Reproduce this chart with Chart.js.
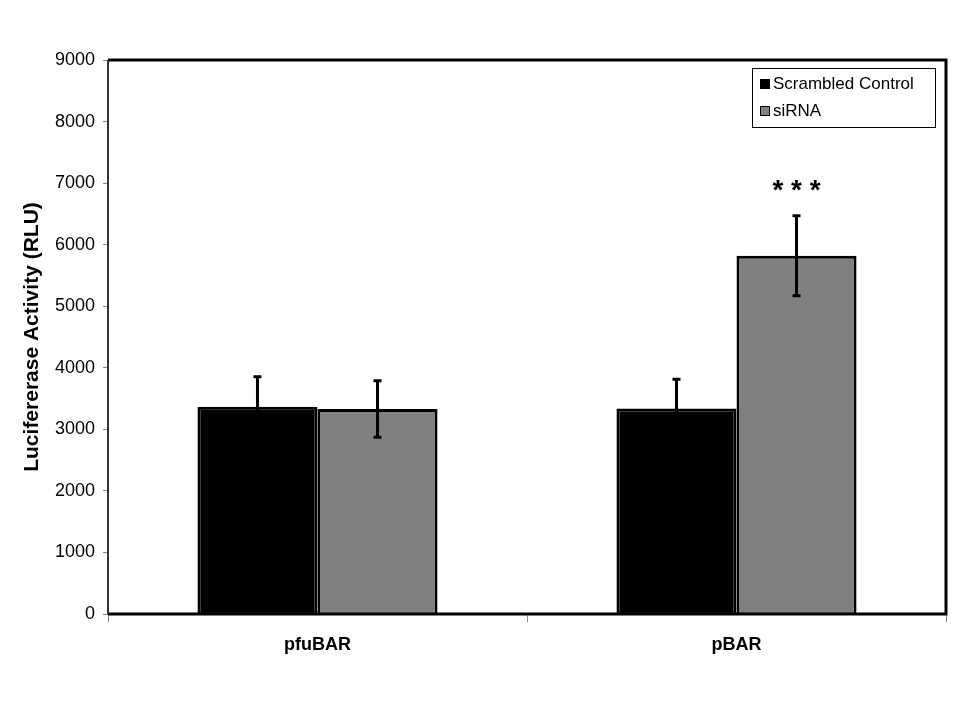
<!DOCTYPE html>
<html>
<head>
<meta charset="utf-8">
<script src="https://cdn.jsdelivr.net/npm/chart.js@4/dist/chart.umd.min.js"></script>
<style>
  html, body { margin:0; padding:0; background:#fff; }
  #wrap { width:960px; height:720px; }
</style>
</head>
<body>
<div id="wrap"><canvas id="c" width="960" height="720"></canvas></div>
<script>
// data
const categories = ['pfuBAR', 'pBAR'];
const seriesNames = ['Scrambled Control', 'siRNA'];
const scrambled = [3365, 3340];
const sirna = [3330, 5820];
const scrambledErr = [490, 475];
const sirnaErr = [460, 650];
const marks = [['', ''], ['', '***']]; // significance, per category per series
const yTicks = [0, 1000, 2000, 3000, 4000, 5000, 6000, 7000, 8000, 9000];

const FONT = '"Liberation Sans", Arial, sans-serif';
const errs = [scrambledErr, sirnaErr];

// error bars + stars
const errorBars = {
  id: 'errorBars',
  afterDatasetsDraw(chart){
    const ctx = chart.ctx, y = chart.scales.y;
    chart.data.datasets.forEach((ds, di) => {
      const meta = chart.getDatasetMeta(di);
      meta.data.forEach((bar, i) => {
        const v = ds.data[i], e = errs[di][i];
        const yt = y.getPixelForValue(v + e), yb = y.getPixelForValue(v - e);
        ctx.save();
        ctx.strokeStyle = '#000';
        ctx.lineWidth = 3;
        ctx.beginPath();
        ctx.moveTo(bar.x, yt); ctx.lineTo(bar.x, yb);
        ctx.moveTo(bar.x - 4, yt); ctx.lineTo(bar.x + 4, yt);
        ctx.moveTo(bar.x - 4, yb); ctx.lineTo(bar.x + 4, yb);
        ctx.stroke();
        const m = marks[i][di];
        if (m) {
          ctx.fillStyle = '#000';
          ctx.font = 'bold 28px ' + FONT;
          ctx.textAlign = 'center';
          ctx.textBaseline = 'middle';
          ctx.fillText(m.split('').join(' '), bar.x, yt - 24);
        }
        ctx.restore();
      });
    });
  }
};

// frame + legend box inside the plot
const frame = {
  id: 'frame',
  afterDraw(chart){
    const ctx = chart.ctx, a = chart.chartArea;
    ctx.save();
    ctx.strokeStyle = '#000';
    ctx.lineWidth = 3;
    ctx.beginPath();
    ctx.moveTo(a.left, a.top); ctx.lineTo(a.right, a.top);
    ctx.lineTo(a.right, a.bottom); ctx.lineTo(a.left, a.bottom);
    ctx.stroke();
    ctx.lineWidth = 2;
    ctx.strokeStyle = '#333';
    ctx.beginPath();
    ctx.moveTo(a.left, a.top); ctx.lineTo(a.left, a.bottom);
    ctx.stroke();
    ctx.lineWidth = 1;
    ctx.strokeStyle = '#000';
    // legend
    const lx = a.left + 644, ly = a.top + 8, lw = 183, lh = 59;
    ctx.fillStyle = '#fff';
    ctx.fillRect(lx, ly, lw, lh);
    ctx.strokeRect(lx + 0.5, ly + 0.5, lw, lh);
    ctx.font = '17px ' + FONT;
    ctx.textBaseline = 'middle';
    chart.data.datasets.forEach((ds, i) => {
      const cy = ly + 16 + i * 27;
      ctx.fillStyle = ds.backgroundColor;
      ctx.fillRect(lx + 8, cy - 5, 10, 10);
      ctx.strokeRect(lx + 8.5, cy - 4.5, 9, 9);
      ctx.fillStyle = '#000';
      ctx.fillText(ds.label, lx + 21, cy);
    });
    ctx.restore();
  }
};

new Chart(document.getElementById('c'), {
  type: 'bar',
  data: {
    labels: categories,
    datasets: [
      { label: seriesNames[0], data: scrambled, backgroundColor: '#000000', borderColor: '#000', borderWidth: 3 },
      { label: seriesNames[1], data: sirna, backgroundColor: '#808080', borderColor: '#000', borderWidth: 3 }
    ]
  },
  options: {
    responsive: false,
    animation: false,
    layout: { padding: { left: 0, top: 60, right: 14, bottom: 0 } },
    datasets: { bar: { categoryPercentage: 0.573, barPercentage: 1 } },
    plugins: { legend: { display: false }, tooltip: { enabled: false } },
    scales: {
      x: {
        offset: true,
        grid: { display: true, drawOnChartArea: false, offset: true, color: '#888', tickLength: 8 },
        border: { display: false },
        ticks: { color: '#000', font: { family: FONT, size: 18, weight: 'bold' }, padding: 12 },
        afterFit(s){ s.height = 106; }
      },
      y: {
        min: 0, max: 9000,
        afterBuildTicks(s){ s.ticks = yTicks.map(v => ({ value: v })); },
        grid: { display: true, drawOnChartArea: false, color: '#888', tickLength: 5 },
        border: { display: false },
        ticks: { color: '#000', font: { family: FONT, size: 18 }, padding: 8, callback: v => String(v) },
        title: { display: true, text: 'Lucifererase Activity (RLU)', color: '#000', font: { family: FONT, size: 21, weight: 'bold' }, padding: { top: 20, bottom: 0 } },
        afterFit(s){ s.width = 108; }
      }
    }
  },
  plugins: [errorBars, frame]
});
</script>
</body>
</html>
